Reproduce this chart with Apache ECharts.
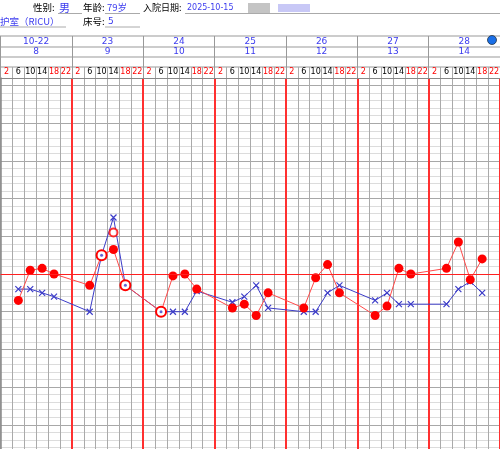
<!DOCTYPE html>
<html><head><meta charset="utf-8">
<script src="https://cdn.jsdelivr.net/npm/echarts@6/dist/echarts.min.js"></script>
<style>html,body{margin:0;padding:0;background:#fff}#c{width:500px;height:449px}</style>
</head><body><div id="c"></div>
<script>
const dates = ['10-22','23','24','25','26','27','28'];
const hospDays = ['8','9','10','11','12','13','14'];
const times = ['2','6','10','14','18','22'];
const redTimes = ['2','18','22'];
// slot index = day*6 + time index
const tempSlots = [1,2,3,4, 7,8,9,10, 13,14,15,16, 19,20,21,22, 25,26,27,28, 31,32,33,34, 37,38,39,40];
const tempValues = [36.3,37.1,37.15,37.0, 36.7,37.5,37.65,36.7, 36.0,36.95,37.0,36.6, 36.1,36.2,35.9,36.5, 36.1,36.9,37.25,36.5, 35.9,36.15,37.15,37.0, 37.15,37.85,36.85,37.4];
const pulseSlots = [1,2,3,4, 7,8,9,10, 13,14,15,16, 19,20,21,22, 25,26,27,28, 31,32,33,34, 37,38,39,40];
const pulseValues = [72,72,70,68, 60,90,110,74, 60,60,60,71, 65,68,74,62, 60,60,70,74, 66,70,64,64, 64,72,76,70];
const retestSlots = [9];
const retestValues = [38.1];

const BLUE = '#3b3bef';
const PBLUE = '#3c3cc8';
const cats = [];
dates.forEach((d, i) => times.forEach(t => cats.push(i + '|' + t)));
const toTemp = p => p / 20 + 33;
const overlap = new Set();
pulseSlots.forEach((s, i) => {
  const j = tempSlots.indexOf(s);
  if (j >= 0 && Math.abs(toTemp(pulseValues[i]) - tempValues[j]) < 0.03) overlap.add(s);
});

const tempData = tempSlots.map((s, i) => overlap.has(s)
  ? {value: [s, tempValues[i]], symbol: 'emptyCircle', symbolSize: 10, itemStyle: {color: '#f00', borderColor: '#f00', borderWidth: 1.5}}
  : {value: [s, tempValues[i]], symbol: 'circle', symbolSize: 9, itemStyle: {color: '#f00'}});
const pulseData = pulseSlots.map((s, i) => overlap.has(s)
  ? {value: [s, pulseValues[i]], symbol: 'none'}
  : {value: [s, pulseValues[i]]});
const dotData = pulseSlots.filter(s => overlap.has(s)).map(s => [s, pulseValues[pulseSlots.indexOf(s)]]);
const retestData = retestSlots.map((s, i) => [s, retestValues[i]]);

const cjk = '"Noto Sans CJK SC", sans-serif';
const num = '"DejaVu Sans", sans-serif';
function txt(x, y, s, color, size, font) {
  return {type: 'text', left: x, top: y, style: {text: s, fill: color, font: size + 'px ' + (font || cjk)}};
}
function hl(x1, x2, y, c) {
  return {type: 'line', shape: {x1: x1, y1: y, x2: x2, y2: y}, style: {stroke: c || '#999', lineWidth: 1}};
}

const chart = echarts.init(document.getElementById('c'), null, {renderer: 'canvas'});
chart.setOption({
  animation: false,
  backgroundColor: '#fff',
  grid: {left: 0.5, right: 0, top: 78, bottom: -13.5, containLabel: false, outerBoundsMode: 'none'},
  xAxis: [
    {type: 'category', data: cats, position: 'top', boundaryGap: true,
     axisLine: {show: true, onZero: false, lineStyle: {color: '#888', width: 1}},
     axisTick: {show: true, length: 11, interval: 0, lineStyle: {color: '#aaa'}},
     axisLabel: {show: true, interval: 0, margin: 2,
       formatter: v => { const t = v.split('|')[1]; return (redTimes.includes(t) ? '{r|' : '{k|') + t + '}'; },
       rich: {r: {color: '#f00', fontSize: 8, fontFamily: num}, k: {color: '#000', fontSize: 8, fontFamily: num}}},
     splitLine: {show: true, interval: 0, lineStyle: {color: '#aaaaaa', width: 1}}},
    {type: 'category', data: dates, position: 'top', boundaryGap: true,
     axisLine: {show: false, onZero: false},
     axisTick: {show: true, length: 42, interval: 0, lineStyle: {color: '#999'}},
     axisLabel: {show: true, interval: 0, margin: 32, color: BLUE, fontSize: 9, fontFamily: num},
     splitLine: {show: true, interval: 0, showMinLine: false, lineStyle: {color: '#ff3030', width: 2}}},
    {type: 'category', data: hospDays, position: 'top', boundaryGap: true,
     axisLine: {show: false, onZero: false}, axisTick: {show: false},
     axisLabel: {show: true, interval: 0, margin: 22, color: BLUE, fontSize: 9, fontFamily: num},
     splitLine: {show: false}}
  ],
  yAxis: [
    {type: 'value', min: 32, max: 42.2, interval: 0.2,
     axisLine: {show: true, onZero: false, lineStyle: {color: '#888', width: 1.5}}, axisTick: {show: false}, axisLabel: {show: false},
     splitLine: {show: true, lineStyle: {color: '#dcdcdc', width: 1}}},
    {type: 'value', min: 32, max: 42.2, show: false},
    {type: 'value', min: -20, max: 184, interval: 20, position: 'right',
     axisLine: {show: false, onZero: false}, axisTick: {show: false}, axisLabel: {show: false},
     splitLine: {show: true, lineStyle: {color: '#a8a8a8', width: 1}}}
  ],
  series: [
    {name: '脉搏', type: 'line', xAxisIndex: 0, yAxisIndex: 2, data: pulseData, z: 3,
     connectNulls: true, symbol: 'path://M0,0L10,10M10,0L0,10', symbolSize: 6,
     lineStyle: {color: PBLUE, width: 1},
     itemStyle: {color: PBLUE, borderColor: PBLUE, borderWidth: 1.2}},
    {name: '体温', type: 'line', xAxisIndex: 0, yAxisIndex: 0, data: tempData, z: 4,
     connectNulls: true,
     lineStyle: {color: '#ff4a4a', width: 1},
     itemStyle: {color: '#f00'},
     markLine: {silent: true, symbol: ['none', 'none'], label: {show: false},
       lineStyle: {color: '#ff2020', width: 1.2, type: 'solid'}, data: [{yAxis: 37}]}},
    {name: '复测', type: 'scatter', xAxisIndex: 0, yAxisIndex: 0, data: retestData, z: 4,
     symbol: 'emptyCircle', symbolSize: 8, itemStyle: {color: '#f00', borderColor: '#f00', borderWidth: 1.2}},
    {name: '重叠', type: 'scatter', xAxisIndex: 0, yAxisIndex: 2, data: dotData, z: 6,
     symbol: 'circle', symbolSize: 3, itemStyle: {color: PBLUE}}
  ],
  graphic: [
    hl(0, 500, 36), hl(0, 500, 47), hl(0, 500, 57), hl(0, 500, 67),
    txt(33, 3, '性别:', '#000', 9.5),
    txt(59, 2, '男', BLUE, 11),
    hl(58, 82, 13.5, '#aaa'),
    txt(83, 3, '年龄:', '#000', 9.5),
    txt(107, 3, '79岁', BLUE, 9.5),
    hl(105, 140, 13.5, '#aaa'),
    txt(143, 3, '入院日期:', '#000', 9),
    txt(187, 4, '2025-10-15', BLUE, 8, num),
    hl(185, 500, 13.5, '#aaa'),
    {type: 'rect', shape: {x: 248, y: 3, width: 22, height: 10}, style: {fill: '#c4c4c4'}},
    {type: 'rect', shape: {x: 278, y: 4, width: 32, height: 8}, style: {fill: '#c8c8f6'}},
    txt(0, 17, '护室（RICU）', BLUE, 9.5),
    hl(0, 66, 27, '#aaa'),
    txt(83, 17, '床号:', '#000', 9.5),
    txt(108, 17, '5', BLUE, 9, num),
    hl(105, 140, 27, '#aaa'),
    {type: 'circle', shape: {cx: 492, cy: 40, r: 4.5}, style: {fill: '#1a6fe8', stroke: '#234', lineWidth: 0.8}}
  ]
});
</script></body></html>
